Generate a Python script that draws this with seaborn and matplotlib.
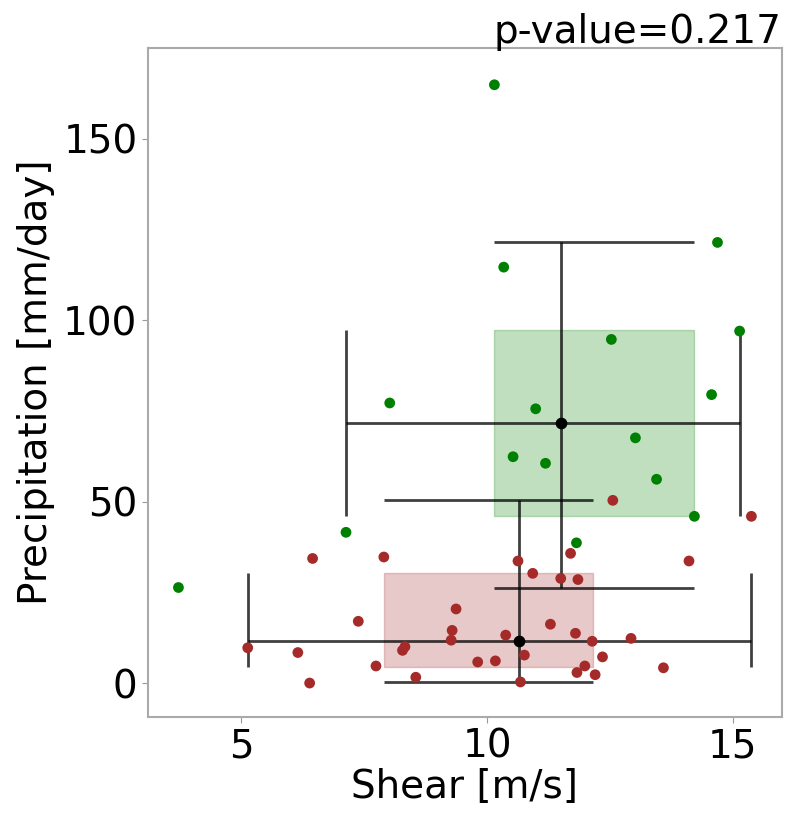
#!/usr/bin/env python3
"""
Shear vs precipitation scatter with 2D box summaries for two groups.
"""

import matplotlib
matplotlib.use('Agg')
import matplotlib.pyplot as plt
import seaborn as sns
import pandas as pd

sns.set_style('white')
plt.rcParams['font.family'] = ['DejaVu Sans']
plt.rcParams['text.color'] = 'black'
plt.rcParams['axes.labelcolor'] = 'black'
plt.rcParams['xtick.color'] = 'black'
plt.rcParams['ytick.color'] = 'black'

# ---- data ----
green_shear = [3.72, 7.13, 8.02, 10.15, 10.34, 10.53, 10.99, 11.19,
               11.82, 12.53, 13.02, 13.45, 14.22, 14.57, 14.69, 15.14]
green_precip = [26.4, 41.6, 77.2, 164.8, 114.6, 62.4, 75.6, 60.6,
                38.7, 94.7, 67.6, 56.2, 46.0, 79.5, 121.4, 97.0]

red_shear = [5.13, 6.15, 6.39, 6.45, 7.38, 7.74, 7.90, 8.33, 8.28, 8.55,
             9.37, 9.29, 9.27, 9.81, 10.17, 10.38, 10.63, 10.68, 10.76,
             10.93, 11.29, 11.50, 11.70, 11.80, 11.83, 11.85, 11.99, 12.14,
             12.20, 12.35, 12.56, 12.93, 13.59, 14.11, 15.38]
red_precip = [9.8, 8.5, 0.1, 34.4, 17.1, 4.8, 34.8, 10.1, 9.1, 1.7,
              20.5, 14.6, 11.9, 5.9, 6.2, 13.3, 33.7, 0.4, 7.8,
              30.3, 16.3, 28.9, 35.8, 13.8, 3.0, 28.6, 4.8, 11.6,
              2.4, 7.3, 50.4, 12.4, 4.3, 33.7, 46.0]

# summary per group: median, box (q1, q3), whiskers (low, high)
groups = ['green', 'brown']
median_x = [11.50, 10.65]
median_y = [71.6, 11.7]
box_x = [(10.15, 14.22), (7.90, 12.15)]
box_y = [(46.0, 97.2), (4.6, 30.4)]
whisk_x = [(7.13, 15.14), (5.13, 15.38)]
whisk_y = [(26.3, 121.4), (0.3, 50.5)]

p_value = 0.217

df = pd.concat([
    pd.DataFrame({'shear': green_shear, 'precip': green_precip, 'group': 'green'}),
    pd.DataFrame({'shear': red_shear, 'precip': red_precip, 'group': 'brown'}),
])

fig = plt.figure(figsize=(7.85, 8.15), dpi=100)
ax = fig.add_axes([0.1885, 0.120, 0.8075, 0.821])

line_kw = dict(color='black', lw=2, alpha=0.75, zorder=2)

for i, col in enumerate(groups):
    bx0, bx1 = box_x[i]
    by0, by1 = box_y[i]
    # IQR box
    ax.fill_between([bx0, bx1], by0, by1, color=col, alpha=0.25, lw=1, zorder=1)
    # horizontal whisker with caps spanning the box height
    ax.hlines(median_y[i], whisk_x[i][0], whisk_x[i][1], **line_kw)
    ax.vlines(whisk_x[i], by0, by1, **line_kw)
    # vertical whisker with caps spanning the box width
    ax.vlines(median_x[i], whisk_y[i][0], whisk_y[i][1], **line_kw)
    ax.hlines(whisk_y[i], bx0, bx1, **line_kw)

sns.scatterplot(data=df, x='shear', y='precip', hue='group',
                palette={'green': 'green', 'brown': 'brown'},
                s=60, linewidth=0, legend=False, ax=ax, zorder=3)
ax.scatter(median_x, median_y, s=55, color='black', zorder=4)

ax.set_xlim(3.1, 16.0)
ax.set_ylim(-9.3, 174.9)
ax.set_xticks([5, 10, 15])
ax.set_yticks([0, 50, 100, 150])
ax.tick_params(labelsize=28, length=4, color='#999999', bottom=True, left=True)
for sp in ax.spines.values():
    sp.set_color('#aaaaaa')
    sp.set_linewidth(1.5)

ax.set_xlabel('Shear [m/s]', fontsize=28, labelpad=2)
ax.set_ylabel('Precipitation [mm/day]', fontsize=28, labelpad=6)
ax.set_title(f'p-value={p_value}', loc='right', fontsize=28, pad=4)

plt.savefig('out.png', dpi=100)
plt.close()
